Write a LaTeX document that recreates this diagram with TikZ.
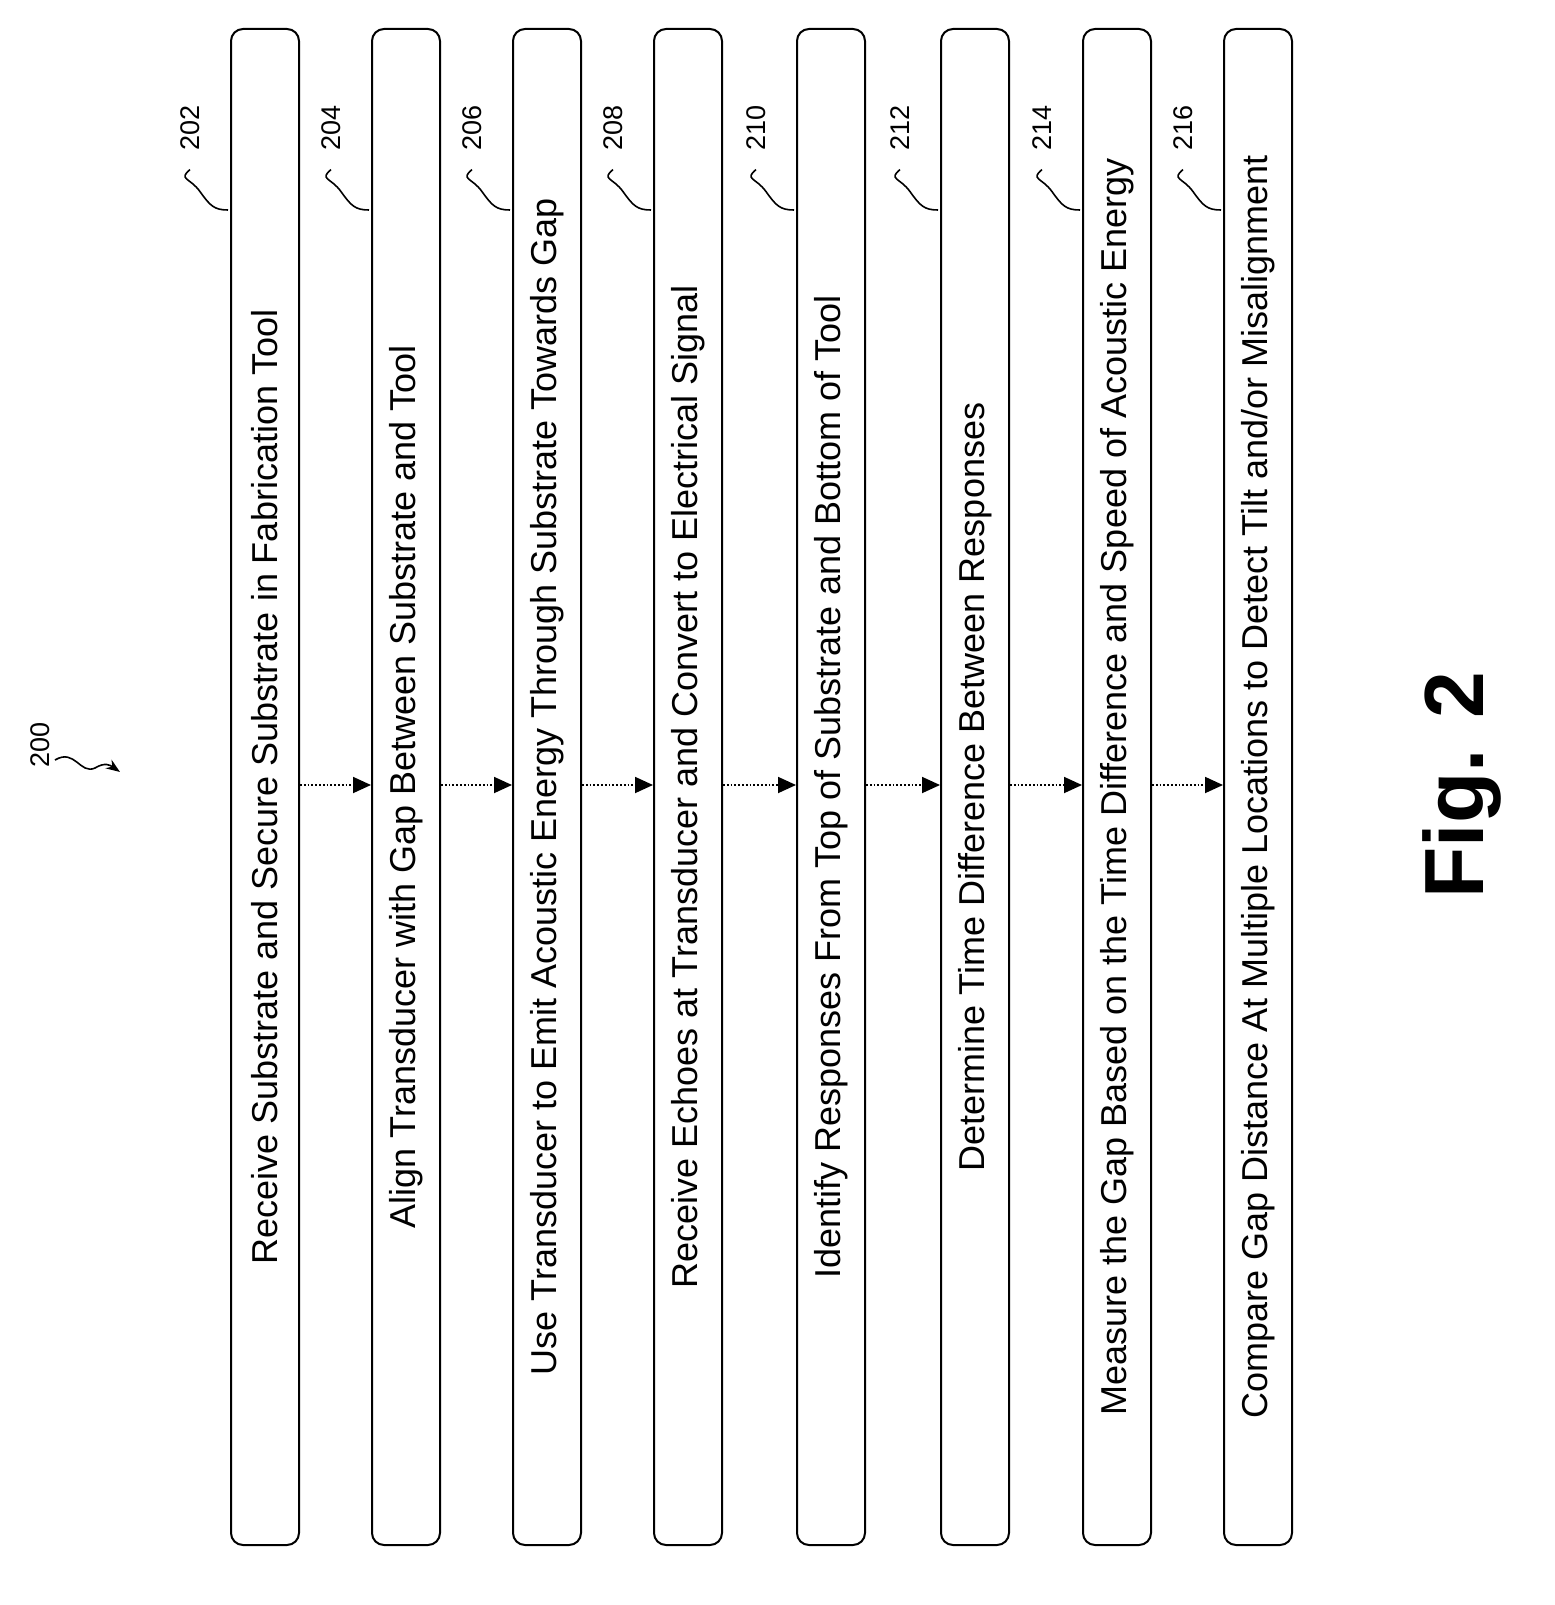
\documentclass[tikz,border=0pt]{standalone}
\usepackage{fontspec}
\setmainfont{Liberation Sans}
\usetikzlibrary{arrows.meta}
\begin{document}
\begin{tikzpicture}[x=0.5pt,y=-0.5pt,
  box/.style={draw,line width=1pt,rounded corners=6pt},
  txt/.style={rotate=90,font=\fontsize{18}{21}\selectfont},
  lbl/.style={rotate=90,font=\fontsize{13.5}{16}\selectfont},
  arr/.style={-{Triangle[length=9pt,width=8pt]},line width=0.9pt,densely dotted},
  lead/.style={line width=0.8pt}]
\useasboundingbox (0,0) rectangle (1554,1605);
\foreach \i/\x/\t/\n in {
 1/230/{Receive Substrate and Secure Substrate in Fabrication Tool}/202,
 2/371/{Align Transducer with Gap Between Substrate and Tool}/204,
 3/512/{Use Transducer to Emit Acoustic Energy Through Substrate Towards Gap}/206,
 4/653/{Receive Echoes at Transducer and Convert to Electrical Signal}/208,
 5/796/{Identify Responses From Top of Substrate and Bottom of Tool}/210,
 6/940/{Determine Time Difference Between Responses}/212,
 7/1082/{Measure the Gap Based on the Time Difference and Speed of Acoustic Energy}/214,
 8/1223/{Compare Gap Distance At Multiple Locations to Detect Tilt and/or Misalignment}/216}{
  \node[box,minimum width=34pt,minimum height=758pt,anchor=north west] (b\i) at (\x,28) {};
  \node[txt] (t\i) at (b\i.center) {\t};
  \node[lbl] (l\i) at (\x-40,128) {\n};
  \coordinate (e\i) at (\x-2,210);
  \draw[lead] (l\i.west) ++(0,12) .. controls +(-12,10) and +(-10,-14) .. +(10,22) .. controls +(10,14) and +(-14,0) .. (e\i);
}
\foreach \a/\b in {1/2,2/3,3/4,4/5,5/6,6/7,7/8}{
  \draw[arr] (b\a.east |- 0,785) coordinate (s\a) -- (b\b.west |- s\a);
}
\node[lbl] (n200) at (40,745) {200};
\coordinate (p200) at (120,772);
\draw[lead,-{Stealth[length=7pt]}] (55,760) .. controls (75,748) and (80,775) .. (95,768) .. controls (105,762) and (110,765) .. (p200);
\node[rotate=90,font=\bfseries\fontsize{42}{46}\selectfont] (fig) at (1462,785) {Fig. 2};
\end{tikzpicture}
\end{document}
